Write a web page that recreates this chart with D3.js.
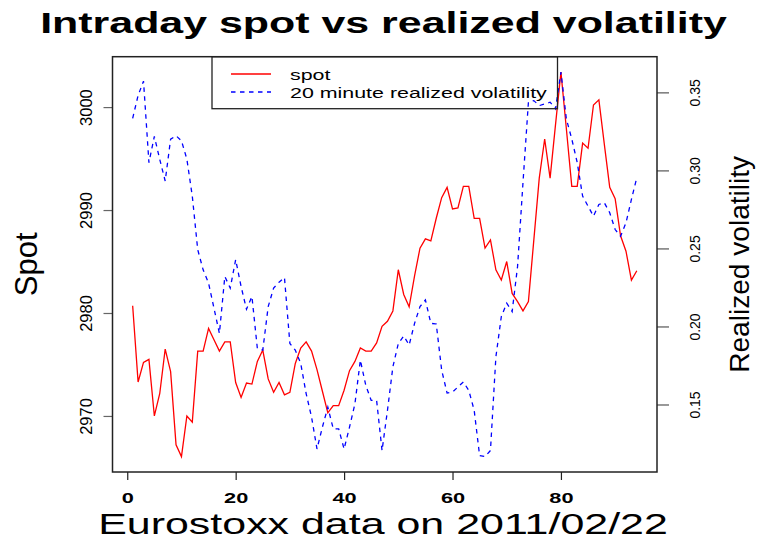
<!DOCTYPE html>
<html>
<head>
<meta charset="utf-8">
<script src="https://cdn.jsdelivr.net/npm/d3@7"></script>
<style>
  html, body { margin: 0; padding: 0; background: #fff; }
  text { font-family: "Liberation Sans", Arial, Helvetica, sans-serif; fill: #000; }
</style>
</head>
<body>
<svg id="chart" width="765" height="539"></svg>
<script>
// Spot level for each minute of the session
const spot = [
  2980.7, 2973.3, 2975.2, 2975.5, 2970.0, 2972.2, 2976.5, 2974.3, 2967.2, 2966.05,
  2970.0, 2969.4, 2976.3, 2976.3, 2978.5, 2977.4, 2976.3, 2977.2, 2977.2, 2973.25,
  2971.8, 2973.2, 2973.1, 2975.3, 2976.4, 2973.6, 2972.3, 2973.25, 2972.05, 2972.3,
  2975.1, 2976.6, 2977.2, 2976.3, 2974.5, 2972.4, 2970.3, 2971.0, 2971.0, 2972.5,
  2974.4, 2975.3, 2976.6, 2976.3, 2976.3, 2977.1, 2978.7, 2979.2, 2980.2, 2984.2,
  2981.8, 2980.6, 2983.6, 2986.3, 2987.2, 2987.0, 2989.2, 2991.2, 2992.2, 2990.1,
  2990.2, 2992.3, 2992.3, 2989.2, 2989.2, 2986.3, 2987.1, 2984.2, 2983.2, 2985.0,
  2981.9, 2981.1, 2980.2, 2981.1, 2987.1, 2993.1, 2996.9, 2993.1, 2998.3, 3003.4,
  2997.9, 2992.3, 2992.3, 2996.5, 2996.0, 3000.2, 3000.7, 2996.4, 2992.2, 2991.1,
  2987.5, 2986.0, 2983.2, 2984.1
];

// 20 minute realized volatility
const vol = [
  0.3334, 0.348, 0.3572, 0.305, 0.3218, 0.307, 0.2932, 0.320, 0.3222, 0.319,
  0.3072, 0.2835, 0.2492, 0.2363, 0.2278, 0.2117, 0.1956, 0.232, 0.2246, 0.2428,
  0.2256, 0.211, 0.2192, 0.1859, 0.1848, 0.2127, 0.2246, 0.2284, 0.2314, 0.1891,
  0.1848, 0.1763, 0.157, 0.1419, 0.1215, 0.1355, 0.1483, 0.1344, 0.1344, 0.1215,
  0.1355, 0.1505, 0.1784, 0.1623, 0.1526, 0.1526, 0.1205, 0.1462, 0.1741, 0.1891,
  0.1939, 0.1881, 0.202, 0.2127, 0.217, 0.202, 0.2016, 0.172, 0.1573, 0.158,
  0.1612, 0.1644, 0.1591, 0.1462, 0.1172, 0.1166, 0.1205, 0.1805, 0.2063, 0.2149,
  0.2095, 0.2385, 0.2922, 0.3437, 0.3447, 0.3415, 0.3426, 0.3437, 0.3394, 0.363,
  0.333, 0.3201, 0.3051, 0.2835, 0.2771, 0.2707, 0.2782, 0.2793, 0.2729, 0.2621,
  0.2578, 0.2664, 0.2814, 0.2954
];

// Tick values
const xTicks = [0, 20, 40, 60, 80];
const spotTicks = [2970, 2980, 2990, 3000];
const volTicks = [0.15, 0.20, 0.25, 0.30, 0.35];

// Labels
const title = 'Intraday spot vs realized volatility';
const xLabel = 'Eurostoxx data on 2011/02/22';
const spotLabel = 'Spot';
const volLabel = 'Realized volatility';
const legendLabels = ['spot', '20 minute realized volatility'];

const svg = d3.select('#chart');

// Plot region
const plotLeft = 112.5;
const plotRight = 657;
const plotTop = 56.7;
const plotBottom = 472;

// R style axis ranges (4% padding)
const pad = ([lo, hi]) => [lo - 0.04 * (hi - lo), hi + 0.04 * (hi - lo)];

const idx = spot.map((d, i) => i + 1);
const x = d3.scaleLinear().domain(pad(d3.extent(idx))).range([plotLeft, plotRight]);
const ySpot = d3.scaleLinear().domain(pad(d3.extent(spot))).range([plotBottom, plotTop]);
const yVol = d3.scaleLinear().domain(pad(d3.extent(vol))).range([plotBottom, plotTop]);

// Stretch a text along its own direction to a wanted length
const fitTo = (sel, len) => len / sel.node().getComputedTextLength();

// Lines
const spotLine = d3.line().x((d, i) => x(i + 1)).y(d => ySpot(d));
const volLine = d3.line().x((d, i) => x(i + 1)).y(d => yVol(d));

svg.append('path')
  .datum(spot)
  .attr('d', spotLine)
  .attr('fill', 'none')
  .attr('stroke', '#ff0000')
  .attr('stroke-width', 1.3);

svg.append('path')
  .datum(vol)
  .attr('d', volLine)
  .attr('fill', 'none')
  .attr('stroke', '#0000ff')
  .attr('stroke-width', 1.3)
  .attr('stroke-dasharray', '4.5,4.5');

// Axes
const xAxis = svg.append('g')
  .attr('transform', `translate(0,${plotBottom})`)
  .call(d3.axisBottom(x).tickValues(xTicks).tickSize(8).tickSizeOuter(0));
xAxis.select('.domain').remove();
xAxis.selectAll('line').attr('stroke', '#222').attr('stroke-width', 1.2);
xAxis.selectAll('text')
  .attr('y', null).attr('dy', null)
  .attr('transform', 'translate(0,31) scale(1.45,1)')
  .style('font-size', '15px')
  .style('font-weight', 'bold')
  .style('font-family', '"Liberation Sans", Arial, sans-serif')
  .attr('fill', '#000');

const leftAxis = svg.append('g')
  .attr('transform', `translate(${plotLeft},0)`)
  .call(d3.axisLeft(ySpot).tickValues(spotTicks).tickSize(9).tickFormat(d3.format('d')));
leftAxis.select('.domain').remove();
leftAxis.selectAll('line').attr('stroke', '#666').attr('stroke-width', 1.2);
leftAxis.selectAll('text')
  .attr('x', null).attr('dy', null)
  .attr('text-anchor', 'middle')
  .attr('transform', 'translate(-20.5,0) rotate(-90)')
  .style('font-size', '16.5px')
  .style('font-family', '"Liberation Sans", Arial, sans-serif')
  .attr('fill', '#000');

const rightAxis = svg.append('g')
  .attr('transform', `translate(${plotRight},0)`)
  .call(d3.axisRight(yVol).tickValues(volTicks).tickSize(12).tickFormat(d3.format('.2f')));
rightAxis.select('.domain').remove();
rightAxis.selectAll('line').attr('stroke', '#555').attr('stroke-width', 1.2);
rightAxis.selectAll('text')
  .attr('x', null).attr('dy', null)
  .attr('text-anchor', 'middle')
  .attr('transform', 'translate(43,0) rotate(-90)')
  .style('font-size', '14px')
  .style('font-family', '"Liberation Sans", Arial, sans-serif')
  .attr('fill', '#000');

// Plot box
svg.append('rect')
  .attr('x', plotLeft)
  .attr('y', plotTop)
  .attr('width', plotRight - plotLeft)
  .attr('height', plotBottom - plotTop)
  .attr('fill', 'none')
  .attr('stroke', '#222')
  .attr('stroke-width', 1.5);

// Legend (no background, lines show through)
const legend = svg.append('g');
legend.append('rect')
  .attr('x', 212)
  .attr('y', plotTop)
  .attr('width', 345.5)
  .attr('height', 52)
  .attr('fill', 'none')
  .attr('stroke', '#222')
  .attr('stroke-width', 1.3);

const legendColors = ['#ff0000', '#0000ff'];
const legendDash = [null, '4.5,4.5'];
const legendY = [74, 92];
legendLabels.forEach((label, i) => {
  legend.append('line')
    .attr('x1', 231).attr('x2', 271)
    .attr('y1', legendY[i]).attr('y2', legendY[i])
    .attr('stroke', legendColors[i])
    .attr('stroke-width', 1.3)
    .attr('stroke-dasharray', legendDash[i]);
});
const legendText = legendLabels.map(label => legend.append('text')
  .style('font-size', '15px')
  .text(label));
const kLegend = fitTo(legendText[1], 257);
legendText.forEach((t, i) => {
  t.attr('transform', `translate(290,${legendY[i] + 5.5}) scale(${kLegend},1)`);
});

// Title
const titleText = svg.append('text')
  .attr('text-anchor', 'middle')
  .style('font-size', '29px')
  .style('font-weight', 'bold')
  .text(title);
titleText.attr('transform', `translate(383.5,33) scale(${fitTo(titleText, 687)},1)`);

// X label
const xLabelText = svg.append('text')
  .attr('text-anchor', 'middle')
  .style('font-size', '29px')
  .text(xLabel);
xLabelText.attr('transform', `translate(383,534) scale(${fitTo(xLabelText, 570)},1)`);

// Y labels, rotated
svg.append('text')
  .attr('text-anchor', 'middle')
  .attr('transform', `translate(37,${(plotTop + plotBottom) / 2}) rotate(-90)`)
  .style('font-size', '31px')
  .text(spotLabel);

const volLabelText = svg.append('text')
  .attr('text-anchor', 'middle')
  .style('font-size', '27px')
  .text(volLabel);
volLabelText.attr('transform',
  `translate(749,${(plotTop + plotBottom) / 2}) rotate(-90) scale(${fitTo(volLabelText, 217)},1)`);
</script>
</body>
</html>
